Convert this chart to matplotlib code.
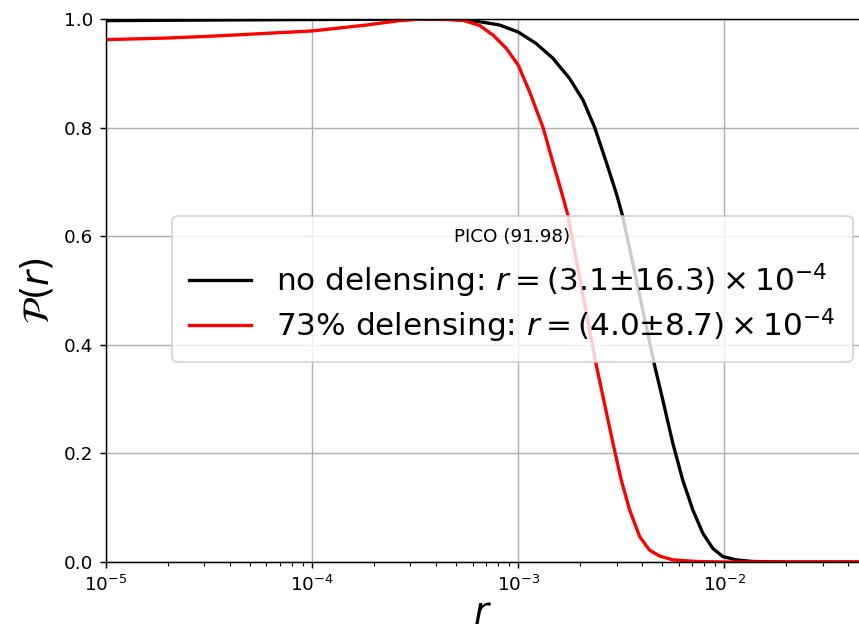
import numpy as np
import matplotlib
matplotlib.use('Agg')
import matplotlib.pyplot as plt

# posterior of r
r_nodelens = [1e-5, 3e-5, 1e-4, 2e-4, 3e-4, 4.6e-4, 5.4e-4, 6.5e-4, 8.1e-4, 1e-3,
              1.22e-3, 1.47e-3, 1.77e-3, 2.06e-3, 2.35e-3, 2.67e-3, 2.99e-3, 3.2e-3,
              3.6e-3, 4.1e-3, 4.58e-3, 5.03e-3, 5.62e-3, 6.28e-3, 7.03e-3, 7.86e-3,
              8.79e-3, 9.83e-3, 1.14e-2, 1.37e-2, 2e-2, 4.5e-2]
p_nodelens = [0.997, 0.998, 0.999, 0.9995, 1.0, 0.999, 0.998, 0.995, 0.989, 0.976,
              0.955, 0.928, 0.891, 0.851, 0.800, 0.737, 0.679, 0.639,
              0.549, 0.449, 0.363, 0.298, 0.219, 0.151, 0.096, 0.053,
              0.025, 0.010, 0.004, 0.001, 0.0, 0.0]

r_delens = [1e-5, 2e-5, 3.1e-5, 5e-5, 1e-4, 1.4e-4, 1.84e-4, 2.66e-4, 3.3e-4, 4e-4,
            4.8e-4, 5.4e-4, 6.5e-4, 7.54e-4, 8.75e-4, 1e-3, 1.135e-3, 1.32e-3,
            1.47e-3, 1.62e-3, 1.74e-3, 2e-3, 2.2e-3, 2.39e-3, 2.62e-3, 2.88e-3,
            3.16e-3, 3.47e-3, 3.88e-3, 4.33e-3, 4.85e-3, 5.62e-3, 7.3e-3, 1e-2, 4.5e-2]
p_delens = [0.962, 0.965, 0.968, 0.972, 0.978, 0.984, 0.989, 0.997, 0.9995, 1.0,
            0.999, 0.9975, 0.988, 0.9705, 0.946, 0.915, 0.866, 0.800,
            0.737, 0.682, 0.639, 0.518, 0.435, 0.363, 0.292, 0.219,
            0.151, 0.096, 0.047, 0.022, 0.011, 0.004, 0.001, 0.0, 0.0]

label_nodelens = r'no delensing: $r = (3.1$±$16.3) \times 10^{-4}$'
label_delens = r'73% delensing: $r = (4.0$±$8.7) \times 10^{-4}$'
legend_title = 'PICO (91.98)'

dpi = 132
fig = plt.figure(figsize=(859/dpi, 632/dpi), dpi=dpi)
ax = fig.add_axes([106/859, 70/632, 753/859, 543/632])

ax.plot(r_nodelens, p_nodelens, color='black', lw=1.8, label=label_nodelens)
ax.plot(r_delens, p_delens, color='red', lw=1.8, label=label_delens)

ax.set_xscale('log')
ax.set_xlim(1e-5, 4.5e-2)
ax.set_ylim(0, 1)
ax.grid(True, which='major', color='#b0b0b0', lw=0.8)
ax.tick_params(labelsize=10)
ax.set_xlabel(r'$r$', fontsize=20, labelpad=0)
ax.set_ylabel(r'$\mathcal{P}(r)$', fontsize=20)
ax.spines['right'].set_visible(False)

leg = ax.legend(loc='center right', bbox_to_anchor=(0.992, 0.503), borderaxespad=0,
                fontsize=17, labelspacing=0.2, title=legend_title, title_fontsize=10)
# a bit more room round the entries, as in the original
leg._legend_box.sep = 5.6
leg._legend_handle_box.pad = 2.7

fig.savefig('out.png', dpi=dpi)
